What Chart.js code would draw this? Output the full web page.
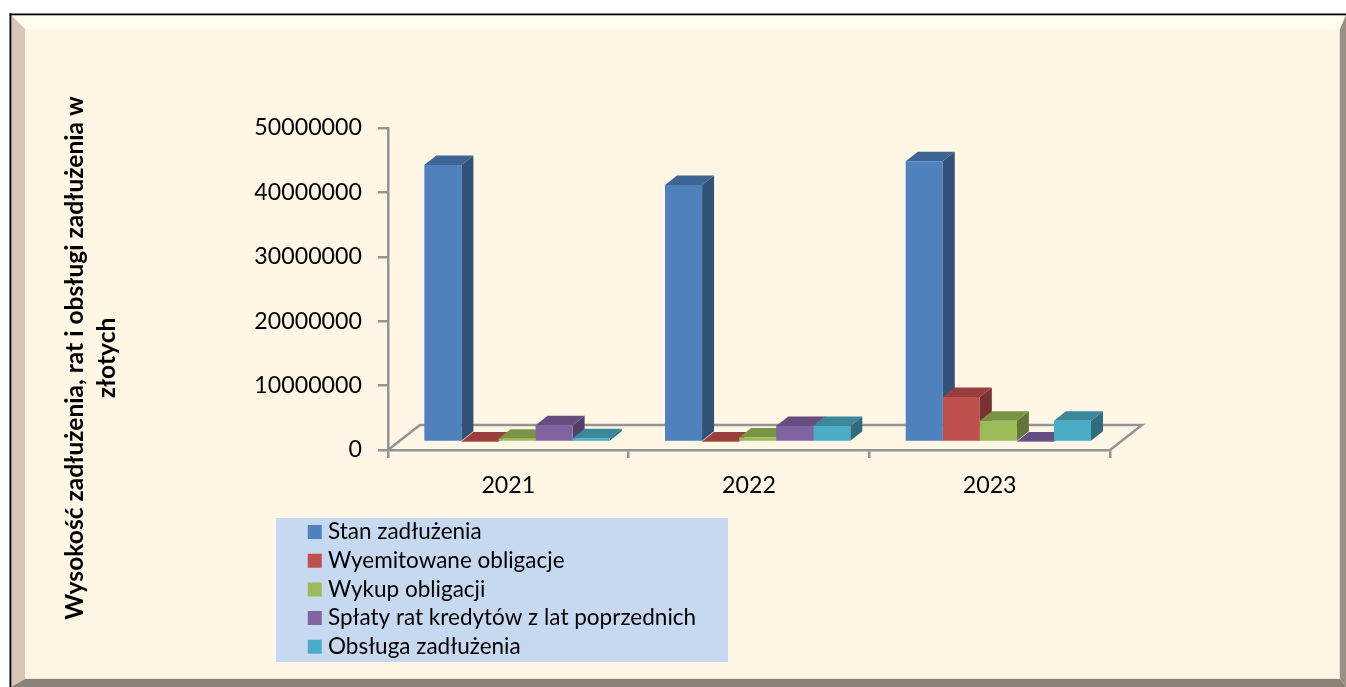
<!DOCTYPE html>
<html lang="pl">
<head>
<meta charset="utf-8">
<title>Wysokość zadłużenia</title>
<script src="https://cdn.jsdelivr.net/npm/chart.js@4"></script>
<style>
html,body{margin:0;padding:0;background:#fff;overflow:hidden}
canvas{display:block}
</style>
</head>
<body>
<canvas id="c" width="1346" height="687"></canvas>
<script>
const categories = ['2021', '2022', '2023'];
const seriesNames = ['Stan zadłużenia', 'Wyemitowane obligacje', 'Wykup obligacji', 'Spłaty rat kredytów z lat poprzednich', 'Obsługa zadłużenia'];
const stanZadluzenia = [43000000, 39900000, 43600000];
const wyemitowaneObligacje = [60000, 60000, 7000000];
const wykupObligacji = [500000, 700000, 3300000];
const splatyRat = [2600000, 2500000, 60000];
const obslugaZadluzenia = [600000, 2500000, 3300000];
const seriesValues = [stanZadluzenia, wyemitowaneObligacje, wykupObligacji, splatyRat, obslugaZadluzenia];
const seriesColors = ['#4F81BD', '#C0504D', '#9BBB59', '#8064A2', '#4BACC6'];
const titleLines = ['Wysokość zadłużenia, rat i obsługi zadłużenia w', 'złotych'];

const FONT = 'Lato, Carlito, sans-serif';
const BAR_SHIFT = {x: 8.7, y: -8};
const BAR_DEPTH = {x: 12, y: -9.5};
const FLOOR_DEPTH = {x: 32, y: -25};
const AXIS_COLOR = '#949494';
const AXIS_WIDTH = 2.5;
const LEGEND_BOX = {l: 276, t: 518, r: 728, b: 662};

function shade(hex, f) {
  const n = parseInt(hex.slice(1), 16);
  const c = s => Math.round(((n >> s) & 255) * f);
  return `rgb(${c(16)},${c(8)},${c(0)})`;
}
function poly(ctx, pts, fill) {
  ctx.beginPath();
  pts.forEach((p, i) => i ? ctx.lineTo(p[0], p[1]) : ctx.moveTo(p[0], p[1]));
  ctx.closePath();
  ctx.fillStyle = fill;
  ctx.fill();
}

const panelPlugin = {
  id: 'panel',
  beforeDraw(chart) {
    const ctx = chart.ctx, W = chart.width, H = chart.height;
    const o = {l: 11, t: 15, r: W, b: H};
    const i = {l: 25, t: 29, r: 1340, b: 679};
    ctx.save();
    ctx.fillStyle = '#FFF6E6';
    ctx.fillRect(o.l, o.t, o.r - o.l, o.b - o.t);
    poly(ctx, [[o.l, o.t], [o.r, o.t], [i.r, i.t], [i.l, i.t]], '#FFFFEF');
    poly(ctx, [[o.l, o.t], [i.l, i.t], [i.l, i.b], [o.l, o.b]], '#D9C5B5');
    poly(ctx, [[o.r, o.t], [o.r, o.b], [i.r, i.b], [i.r, i.t]], '#9C9085');
    poly(ctx, [[o.l, o.b], [i.l, i.b], [i.r, i.b], [o.r, o.b]], '#8C8378');
    ctx.fillStyle = '#E9E3D2';
    ctx.fillRect(i.l, i.b - 1, i.r - i.l, 1);
    ctx.fillRect(i.r - 1, i.t, 1, i.b - i.t);
    ctx.fillStyle = '#000';
    ctx.fillRect(9.5, 13.5, W - 9.5, 1.8);
    ctx.fillRect(9.5, 13.5, 1.8, H - 13.5);
    ctx.fillStyle = '#C6D9F1';
    ctx.fillRect(LEGEND_BOX.l, LEGEND_BOX.t, LEGEND_BOX.r - LEGEND_BOX.l, LEGEND_BOX.b - LEGEND_BOX.t);
    ctx.restore();
  }
};

const legendPlacePlugin = {
  id: 'legendPlace',
  beforeLayout(chart) {
    const lg = chart.legend;
    if (lg && !lg.__wrapped) {
      const fit = lg.fit;
      lg.fit = function () { fit.call(this); this.width = 0; };
      lg.__wrapped = true;
    }
  },
  afterLayout(chart) {
    const lg = chart.legend;
    const w = LEGEND_BOX.r - LEGEND_BOX.l;
    lg.left = 306.55; lg.right = lg.left + w;
    lg.top = 514.55; lg.bottom = chart.height;
    lg.width = w; lg.height = lg.bottom - lg.top;
    // give the vertical title room so that it is not squeezed to the plot height
    const tb = chart.titleBlock;
    tb.top = 58; tb.bottom = 658; tb.height = tb.bottom - tb.top;
  }
};

const depthPlugin = {
  id: 'depth',
  beforeDatasetsDraw(chart) {
    const ctx = chart.ctx, a = chart.chartArea;
    ctx.save();
    // floor of the 3D box
    ctx.strokeStyle = AXIS_COLOR;
    ctx.lineWidth = AXIS_WIDTH;
    ctx.beginPath();
    ctx.moveTo(a.left, a.bottom);
    ctx.lineTo(a.left + FLOOR_DEPTH.x, a.bottom + FLOOR_DEPTH.y);
    ctx.lineTo(a.right + FLOOR_DEPTH.x, a.bottom + FLOOR_DEPTH.y);
    ctx.lineTo(a.right, a.bottom);
    ctx.stroke();
    ctx.translate(BAR_SHIFT.x, BAR_SHIFT.y);
    // top and side faces, left to right, category by category
    categories.forEach((_, j) => {
      seriesValues.forEach((_, i) => {
        const el = chart.getDatasetMeta(i).data[j];
        const L = el.x - el.width / 2, R = el.x + el.width / 2, T = el.y, B = el.base;
        const dx = BAR_DEPTH.x, dy = BAR_DEPTH.y;
        poly(ctx, [[R, T], [R + dx, T + dy], [R + dx, B + dy], [R, B]], shade(seriesColors[i], 0.63));
        poly(ctx, [[L, T], [L + dx, T + dy], [R + dx, T + dy], [R, T]], shade(seriesColors[i], 0.79));
      });
    });
  },
  afterDatasetsDraw(chart) {
    chart.ctx.restore();
  }
};

new Chart(document.getElementById('c'), {
  type: 'bar',
  data: {
    labels: categories,
    datasets: seriesNames.map((name, i) => ({
      label: name,
      data: seriesValues[i],
      backgroundColor: seriesColors[i],
      borderWidth: 0,
      barPercentage: 1,
      categoryPercentage: 0.77
    }))
  },
  plugins: [panelPlugin, legendPlacePlugin, depthPlugin],
  options: {
    responsive: false,
    animation: false,
    events: [],
    layout: {padding: {left: 59, right: 236, top: 128, bottom: 99}},
    plugins: {
      tooltip: {enabled: false},
      title: {
        display: true,
        position: 'left',
        text: titleLines,
        color: '#000',
        padding: 0,
        font: {family: FONT, size: 24.6, weight: 'bold', lineHeight: 1.3}
      },
      legend: {
        display: true,
        position: 'left',
        align: 'start',
        labels: {
          usePointStyle: true,
          pointStyle: 'rect',
          boxWidth: 4,
          boxHeight: 14,
          padding: 6.2,
          color: '#000',
          font: {family: FONT, size: 22.5}
        }
      }
    },
    scales: {
      x: {
        afterFit(s) { s.height = 138; },
        grid: {drawOnChartArea: false, color: AXIS_COLOR, lineWidth: AXIS_WIDTH, tickLength: 8, offset: true},
        border: {color: AXIS_COLOR, width: AXIS_WIDTH},
        ticks: {color: '#000', padding: 14, font: {family: FONT, size: 23.2}}
      },
      y: {
        min: 0,
        max: 50000000,
        afterFit(s) { s.width = 265; },
        grid: {drawOnChartArea: false, color: AXIS_COLOR, lineWidth: AXIS_WIDTH, tickLength: 10},
        border: {color: AXIS_COLOR, width: AXIS_WIDTH},
        ticks: {
          stepSize: 10000000,
          color: '#000',
          padding: 16,
          font: {family: FONT, size: 23.2},
          callback: v => String(v)
        }
      }
    }
  }
});
</script>
</body>
</html>
